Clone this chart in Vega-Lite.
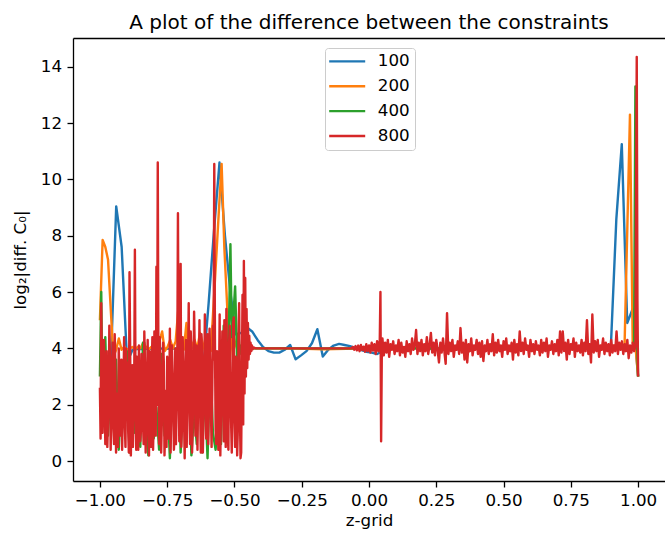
{
"$schema": "https://vega.github.io/schema/vega-lite/v6.json",
"width": 592, "height": 443,
"autosize": {"type": "none"},
"padding": {"left": 73, "top": 38, "right": 0, "bottom": 52},
"background": "white",
"title": {"text": "A plot of the difference between the constraints", "fontSize": 20, "fontWeight": "normal", "font": "DejaVu Sans", "color": "black", "anchor": "middle", "offset": 5, "frame": "group"},
"config": {
  "view": {"stroke": null},
  "font": "DejaVu Sans",
  "axis": {"grid": false, "domainColor": "black", "tickColor": "black", "labelColor": "black", "titleColor": "black", "labelFontSize": 16.7, "titleFontSize": 16.7, "titleFontWeight": "normal", "tickSize": 6, "domainWidth": 1.3, "tickWidth": 1.3, "labelFont": "DejaVu Sans", "titleFont": "DejaVu Sans", "labelFlush": false, "labelOverlap": false}
},
"datasets": {
"d100": [
{"z":-1,"v":3.3},{"z":-0.9798,"v":3.6},{"z":-0.9596,"v":3.4},{"z":-0.9394,"v":9.04},{"z":-0.9192,"v":7.6},{"z":-0.899,"v":3.5},{"z":-0.8788,"v":3.95},{"z":-0.8586,"v":3.98},{"z":-0.8384,"v":3.97},{"z":-0.8182,"v":3.99},{"z":-0.798,"v":3.98},{"z":-0.7778,"v":4.0},{"z":-0.7576,"v":3.98},{"z":-0.7374,"v":3.99},{"z":-0.7172,"v":4.0},{"z":-0.697,"v":3.98},{"z":-0.6768,"v":4.02},{"z":-0.6566,"v":4.05},{"z":-0.6364,"v":3.9},{"z":-0.6162,"v":3.25},{"z":-0.596,"v":5.6},{"z":-0.5758,"v":8.2},{"z":-0.5556,"v":10.6},{"z":-0.5354,"v":8.0},{"z":-0.5152,"v":6.0},{"z":-0.4949,"v":4.5},{"z":-0.4747,"v":4.55},{"z":-0.4545,"v":4.75},{"z":-0.4343,"v":4.6},{"z":-0.4141,"v":4.3},{"z":-0.3939,"v":4.05},{"z":-0.3737,"v":3.9},{"z":-0.3535,"v":3.85},{"z":-0.3333,"v":3.85},{"z":-0.3131,"v":3.95},{"z":-0.2929,"v":4.12},{"z":-0.2727,"v":3.61},{"z":-0.2525,"v":3.75},{"z":-0.2323,"v":3.9},{"z":-0.2121,"v":4.18},{"z":-0.1919,"v":4.68},{"z":-0.1717,"v":3.71},{"z":-0.1515,"v":3.95},{"z":-0.1313,"v":4.1},{"z":-0.1111,"v":4.16},{"z":-0.0909,"v":4.12},{"z":-0.0707,"v":4.08},{"z":-0.0505,"v":4.02},{"z":-0.0303,"v":3.95},{"z":-0.0101,"v":3.88},{"z":0.0101,"v":3.85},{"z":0.0303,"v":3.8},{"z":0.0505,"v":3.9},{"z":0.0707,"v":4.0},{"z":0.0909,"v":4.05},{"z":0.2929,"v":3.95},{"z":0.4949,"v":4.05},{"z":0.697,"v":3.98},{"z":0.8788,"v":4.0},{"z":0.899,"v":4.1},{"z":0.9192,"v":8.6},{"z":0.9394,"v":11.25},{"z":0.9596,"v":4.9},{"z":0.9798,"v":5.4},{"z":1,"v":3.0}
],
"d200": [
{"z":-1,"v":5.0},{"z":-0.9899,"v":7.85},{"z":-0.9799,"v":7.6},{"z":-0.9698,"v":7.15},{"z":-0.9598,"v":5.4},{"z":-0.9497,"v":3.7},{"z":-0.9397,"v":3.95},{"z":-0.9296,"v":4.35},{"z":-0.9196,"v":3.95},{"z":-0.9095,"v":4.05},{"z":-0.8995,"v":3.95},{"z":-0.8894,"v":4.0},{"z":-0.8794,"v":4.05},{"z":-0.8693,"v":3.95},{"z":-0.8593,"v":4.05},{"z":-0.8492,"v":4.0},{"z":-0.8392,"v":4.2},{"z":-0.8291,"v":4.05},{"z":-0.8191,"v":3.95},{"z":-0.809,"v":4.05},{"z":-0.799,"v":3.95},{"z":-0.7889,"v":4.1},{"z":-0.7789,"v":4.25},{"z":-0.7688,"v":4.6},{"z":-0.7588,"v":3.9},{"z":-0.7487,"v":4.05},{"z":-0.7387,"v":4.3},{"z":-0.7286,"v":4.0},{"z":-0.7186,"v":4.25},{"z":-0.7085,"v":5.4},{"z":-0.6985,"v":4.1},{"z":-0.6884,"v":3.95},{"z":-0.6784,"v":4.9},{"z":-0.6683,"v":3.4},{"z":-0.6583,"v":4.1},{"z":-0.6482,"v":4.3},{"z":-0.6382,"v":4.0},{"z":-0.6281,"v":4.55},{"z":-0.6181,"v":4.2},{"z":-0.608,"v":3.85},{"z":-0.598,"v":4.0},{"z":-0.5879,"v":3.9},{"z":-0.5779,"v":5.5},{"z":-0.5678,"v":7.2},{"z":-0.5578,"v":8.9},{"z":-0.5477,"v":10.55},{"z":-0.5377,"v":7.6},{"z":-0.5276,"v":5.6},{"z":-0.5176,"v":3.6},{"z":-0.5075,"v":4.6},{"z":-0.4975,"v":4.2},{"z":-0.4874,"v":3.9},{"z":-0.4774,"v":4.05},{"z":-0.4673,"v":4.0},{"z":-0.3,"v":4.0},{"z":-0.17,"v":3.97},{"z":0,"v":4.0},{"z":0.5,"v":4.0},{"z":0.9497,"v":4.1},{"z":0.9598,"v":8.2},{"z":0.9698,"v":12.3},{"z":0.9799,"v":4.2},{"z":0.9899,"v":4.1},{"z":1,"v":3.0}
],
"d400": [
{"z":-1,"v":3.0},{"z":-0.995,"v":6.0},{"z":-0.99,"v":1.5},{"z":-0.98,"v":4.4},{"z":-0.97,"v":0.9},{"z":-0.96,"v":2.8},{"z":-0.95,"v":1.3},{"z":-0.94,"v":3.6},{"z":-0.93,"v":0.4},{"z":-0.92,"v":2.6},{"z":-0.91,"v":1.6},{"z":-0.9,"v":3.9},{"z":-0.89,"v":0.3},{"z":-0.88,"v":2.4},{"z":-0.87,"v":1.0},{"z":-0.86,"v":3.2},{"z":-0.85,"v":0.5},{"z":-0.84,"v":4.2},{"z":-0.835,"v":4.2},{"z":-0.83,"v":1.7},{"z":-0.82,"v":0.2},{"z":-0.81,"v":3.3},{"z":-0.8,"v":0.8},{"z":-0.79,"v":1.9},{"z":-0.78,"v":0.4},{"z":-0.77,"v":3.8},{"z":-0.76,"v":0.9},{"z":-0.75,"v":2.5},{"z":-0.74,"v":0.1},{"z":-0.73,"v":3.1},{"z":-0.72,"v":1.2},{"z":-0.71,"v":4.0},{"z":-0.7,"v":0.3},{"z":-0.69,"v":2.2},{"z":-0.68,"v":0.7},{"z":-0.67,"v":3.5},{"z":-0.66,"v":0.2},{"z":-0.65,"v":1.8},{"z":-0.64,"v":0.6},{"z":-0.63,"v":4.3},{"z":-0.62,"v":0.3},{"z":-0.61,"v":2.6},{"z":-0.6,"v":0.1},{"z":-0.59,"v":3.6},{"z":-0.58,"v":1.0},{"z":-0.57,"v":0.4},{"z":-0.56,"v":1.8},{"z":-0.55,"v":0.6},{"z":-0.54,"v":4.8},{"z":-0.53,"v":2.8},{"z":-0.52,"v":5.0},{"z":-0.515,"v":7.7},{"z":-0.51,"v":4.4},{"z":-0.505,"v":5.0},{"z":-0.4975,"v":6.2},{"z":-0.49,"v":3.6},{"z":-0.485,"v":4.5},{"z":-0.48,"v":3.8},{"z":-0.475,"v":4.1},{"z":-0.47,"v":4.0},{"z":-0.3,"v":4.0},{"z":0,"v":4.0},{"z":0.5,"v":4.0},{"z":0.985,"v":4.0},{"z":0.99,"v":13.3},{"z":0.995,"v":4.6},{"z":1,"v":3.0}
],
"d800": [
{"z":-1,"v":2.6},{"z":-0.995,"v":5.6},{"z":-0.99,"v":1.0},{"z":-0.985,"v":4.3},{"z":-0.98,"v":0.6},{"z":-0.975,"v":3.9},{"z":-0.97,"v":1.5},{"z":-0.965,"v":4.8},{"z":-0.96,"v":0.4},{"z":-0.955,"v":3.1},{"z":-0.95,"v":1.2},{"z":-0.945,"v":4.5},{"z":-0.94,"v":0.3},{"z":-0.935,"v":2.4},{"z":-0.93,"v":4.0},{"z":-0.925,"v":0.9},{"z":-0.92,"v":3.6},{"z":-0.915,"v":1.8},{"z":-0.91,"v":4.4},{"z":-0.905,"v":0.5},{"z":-0.9,"v":2.9},{"z":-0.895,"v":1.1},{"z":-0.89,"v":6.7},{"z":-0.885,"v":0.2},{"z":-0.88,"v":3.4},{"z":-0.875,"v":1.6},{"z":-0.87,"v":7.5},{"z":-0.865,"v":0.4},{"z":-0.86,"v":2.2},{"z":-0.855,"v":4.1},{"z":-0.85,"v":0.7},{"z":-0.845,"v":3.8},{"z":-0.84,"v":1.4},{"z":-0.835,"v":4.6},{"z":-0.83,"v":0.3},{"z":-0.825,"v":2.7},{"z":-0.82,"v":1.0},{"z":-0.815,"v":3.9},{"z":-0.81,"v":0.5},{"z":-0.805,"v":4.4},{"z":-0.8,"v":1.7},{"z":-0.795,"v":3.0},{"z":-0.79,"v":6.9},{"z":-0.785,"v":10.6},{"z":-0.78,"v":0.6},{"z":-0.775,"v":3.3},{"z":-0.77,"v":1.3},{"z":-0.765,"v":4.2},{"z":-0.76,"v":0.2},{"z":-0.755,"v":2.5},{"z":-0.75,"v":3.7},{"z":-0.745,"v":0.8},{"z":-0.74,"v":4.7},{"z":-0.735,"v":1.5},{"z":-0.73,"v":3.2},{"z":-0.725,"v":0.4},{"z":-0.72,"v":4.0},{"z":-0.715,"v":1.9},{"z":-0.71,"v":8.8},{"z":-0.705,"v":0.7},{"z":-0.7,"v":7.0},{"z":-0.695,"v":1.2},{"z":-0.69,"v":3.5},{"z":-0.685,"v":0.1},{"z":-0.68,"v":4.3},{"z":-0.675,"v":2.0},{"z":-0.67,"v":5.6},{"z":-0.665,"v":0.6},{"z":-0.66,"v":3.8},{"z":-0.655,"v":1.4},{"z":-0.65,"v":5.3},{"z":-0.645,"v":0.9},{"z":-0.64,"v":4.1},{"z":-0.635,"v":2.3},{"z":-0.63,"v":5.0},{"z":-0.625,"v":0.3},{"z":-0.62,"v":3.6},{"z":-0.615,"v":1.6},{"z":-0.61,"v":5.2},{"z":-0.605,"v":0.8},{"z":-0.6,"v":4.5},{"z":-0.595,"v":2.1},{"z":-0.59,"v":3.4},{"z":-0.585,"v":0.5},{"z":-0.58,"v":4.8},{"z":-0.575,"v":10.55},{"z":-0.57,"v":1.1},{"z":-0.565,"v":3.9},{"z":-0.56,"v":0.4},{"z":-0.555,"v":5.2},{"z":-0.55,"v":1.8},{"z":-0.545,"v":4.6},{"z":-0.54,"v":0.7},{"z":-0.535,"v":3.3},{"z":-0.53,"v":5.4},{"z":-0.525,"v":1.0},{"z":-0.52,"v":4.2},{"z":-0.515,"v":2.6},{"z":-0.51,"v":0.3},{"z":-0.505,"v":4.9},{"z":-0.5,"v":1.5},{"z":-0.495,"v":3.7},{"z":-0.49,"v":0.2},{"z":-0.485,"v":4.4},{"z":-0.48,"v":2.0},{"z":-0.475,"v":0.3},
{"z":-0.9975,"v":0.8},{"z":-0.9925,"v":3.4},{"z":-0.9875,"v":2.2},{"z":-0.9825,"v":3.0},{"z":-0.9775,"v":2.5},{"z":-0.9725,"v":0.5},{"z":-0.9675,"v":2.0},{"z":-0.9625,"v":3.6},{"z":-0.9575,"v":1.9},{"z":-0.9525,"v":4.2},{"z":-0.9475,"v":0.6},{"z":-0.9425,"v":3.3},{"z":-0.9375,"v":1.7},{"z":-0.9325,"v":0.5},{"z":-0.9275,"v":3.1},{"z":-0.9225,"v":2.4},{"z":-0.9175,"v":0.4},{"z":-0.9125,"v":2.6},{"z":-0.9075,"v":1.3},{"z":-0.9025,"v":4.0},{"z":-0.8975,"v":3.5},{"z":-0.8925,"v":0.3},{"z":-0.8875,"v":3.9},{"z":-0.8825,"v":1.9},{"z":-0.8775,"v":0.5},{"z":-0.8725,"v":2.8},{"z":-0.8675,"v":2.3},{"z":-0.8625,"v":3.7},{"z":-0.8575,"v":0.4},{"z":-0.8525,"v":2.5},{"z":-0.8475,"v":1.1},{"z":-0.8425,"v":2.9},{"z":-0.8375,"v":0.6},{"z":-0.8325,"v":3.4},{"z":-0.8275,"v":1.5},{"z":-0.8225,"v":4.3},{"z":-0.8175,"v":0.2},{"z":-0.8125,"v":2.1},{"z":-0.8075,"v":3.2},{"z":-0.8025,"v":0.4},{"z":-0.7975,"v":4.6},{"z":-0.7925,"v":0.9},{"z":-0.7875,"v":2.0},{"z":-0.7825,"v":3.1},{"z":-0.7775,"v":4.4},{"z":-0.7725,"v":0.3},{"z":-0.7675,"v":2.6},{"z":-0.7625,"v":3.5},{"z":-0.7575,"v":1.1},{"z":-0.7525,"v":0.5},{"z":-0.7475,"v":2.7},{"z":-0.7425,"v":2.2},{"z":-0.7375,"v":0.3},{"z":-0.7325,"v":4.1},{"z":-0.7275,"v":2.3},{"z":-0.7225,"v":1.0},{"z":-0.7175,"v":0.6},{"z":-0.7125,"v":3.3},{"z":-0.7075,"v":2.9},{"z":-0.7025,"v":3.6},{"z":-0.6975,"v":0.5},{"z":-0.6925,"v":4.4},{"z":-0.6875,"v":1.6},{"z":-0.6825,"v":2.7},{"z":-0.6775,"v":0.5},{"z":-0.6725,"v":3.2},{"z":-0.6675,"v":2.4},{"z":-0.6625,"v":4.6},{"z":-0.6575,"v":0.3},{"z":-0.6525,"v":2.8},{"z":-0.6475,"v":3.9},{"z":-0.6425,"v":1.1},{"z":-0.6375,"v":0.4},{"z":-0.6325,"v":2.9},{"z":-0.6275,"v":1.8},{"z":-0.6225,"v":4.5},{"z":-0.6175,"v":0.3},{"z":-0.6125,"v":2.6},{"z":-0.6075,"v":3.0},{"z":-0.6025,"v":1.2},{"z":-0.5975,"v":0.6},{"z":-0.5925,"v":4.7},{"z":-0.5875,"v":1.9},{"z":-0.5825,"v":2.5},{"z":-0.5775,"v":3.6},{"z":-0.5725,"v":4.3},{"z":-0.5675,"v":0.6},{"z":-0.5625,"v":2.3},{"z":-0.5575,"v":2.8},{"z":-0.5525,"v":0.2},{"z":-0.5475,"v":3.0},{"z":-0.5425,"v":2.4},{"z":-0.5375,"v":5.0},{"z":-0.5325,"v":0.5},{"z":-0.5275,"v":2.9},{"z":-0.5225,"v":0.4},{"z":-0.5175,"v":4.8},{"z":-0.5125,"v":1.4},{"z":-0.5075,"v":2.2},{"z":-0.5025,"v":5.1},{"z":-0.4975,"v":0.5},{"z":-0.4925,"v":3.0},{"z":-0.4875,"v":1.1},{"z":-0.4825,"v":5.6},{"z":-0.4775,"v":0.1},
{"z":-0.47,"v":5.9},{"z":-0.4675,"v":1.3},{"z":-0.465,"v":7.1},{"z":-0.4625,"v":2.4},{"z":-0.46,"v":6.5},{"z":-0.4575,"v":3.0},{"z":-0.455,"v":5.4},{"z":-0.4525,"v":3.3},{"z":-0.45,"v":4.9},{"z":-0.4475,"v":3.6},{"z":-0.445,"v":4.45},{"z":-0.4425,"v":3.8},{"z":-0.44,"v":4.2},{"z":-0.4375,"v":3.9},{"z":-0.435,"v":4.1},{"z":-0.4325,"v":3.97},{"z":-0.43,"v":4.03},{"z":-0.42,"v":4.0},{"z":-0.3,"v":4.0},{"z":-0.2,"v":4.0},{"z":-0.1,"v":4.0},{"z":-0.065,"v":4.0},
{"z":-0.06,"v":4.05},{"z":-0.055,"v":3.95},{"z":-0.05,"v":4.08},{"z":-0.045,"v":3.93},{"z":-0.04,"v":4.1},{"z":-0.035,"v":3.9},{"z":-0.03,"v":4.12},{"z":-0.025,"v":3.94},{"z":-0.02,"v":4.06},{"z":-0.015,"v":3.88},{"z":-0.01,"v":4.15},{"z":-0.005,"v":3.9},{"z":0,"v":4.1},{"z":0.005,"v":3.85},{"z":0.01,"v":4.2},{"z":0.015,"v":3.92},{"z":0.02,"v":4.15},{"z":0.025,"v":3.8},{"z":0.03,"v":4.25},{"z":0.035,"v":3.9},{"z":0.04,"v":4.3},{"z":0.0425,"v":6.0},{"z":0.045,"v":0.7},{"z":0.0475,"v":3.7},{"z":0.05,"v":4.35},
{"z":0.055,"v":3.75},{"z":0.06,"v":4.2},{"z":0.065,"v":3.85},{"z":0.07,"v":4.3},{"z":0.075,"v":3.7},{"z":0.08,"v":4.15},{"z":0.085,"v":3.95},{"z":0.09,"v":4.25},{"z":0.095,"v":3.8},{"z":0.1,"v":4.1},{"z":0.105,"v":3.9},{"z":0.11,"v":4.3},{"z":0.115,"v":3.75},{"z":0.12,"v":4.2},{"z":0.125,"v":3.85},{"z":0.13,"v":4.05},{"z":0.135,"v":3.7},{"z":0.14,"v":4.25},{"z":0.145,"v":3.9},{"z":0.15,"v":4.15},{"z":0.155,"v":3.8},{"z":0.16,"v":4.35},{"z":0.165,"v":3.95},{"z":0.17,"v":4.1},{"z":0.175,"v":4.65},{"z":0.18,"v":3.8},{"z":0.185,"v":4.2},{"z":0.19,"v":3.9},{"z":0.195,"v":4.3},{"z":0.2,"v":3.75},{"z":0.205,"v":4.15},{"z":0.21,"v":3.9},{"z":0.215,"v":4.4},{"z":0.22,"v":3.8},{"z":0.225,"v":4.1},{"z":0.23,"v":4.55},{"z":0.235,"v":3.85},{"z":0.24,"v":4.2},{"z":0.245,"v":3.75},{"z":0.25,"v":4.3},{"z":0.255,"v":3.95},{"z":0.26,"v":3.5},{"z":0.265,"v":4.2},{"z":0.27,"v":3.85},{"z":0.275,"v":4.35},{"z":0.28,"v":3.9},{"z":0.285,"v":3.45},{"z":0.29,"v":5.25},{"z":0.295,"v":3.8},{"z":0.3,"v":4.2},{"z":0.305,"v":3.9},{"z":0.31,"v":4.3},{"z":0.315,"v":3.7},{"z":0.32,"v":4.1},{"z":0.325,"v":3.95},{"z":0.33,"v":4.25},{"z":0.335,"v":3.8},{"z":0.34,"v":4.72},{"z":0.345,"v":3.85},{"z":0.35,"v":4.2},{"z":0.355,"v":3.6},{"z":0.36,"v":4.3},{"z":0.365,"v":3.5},{"z":0.37,"v":4.15},{"z":0.375,"v":3.9},{"z":0.38,"v":4.35},{"z":0.385,"v":3.75},{"z":0.39,"v":4.1},{"z":0.395,"v":3.95},{"z":0.4,"v":4.3},{"z":0.405,"v":3.8},{"z":0.41,"v":4.2},{"z":0.415,"v":3.7},{"z":0.42,"v":4.25},{"z":0.425,"v":3.55},{"z":0.43,"v":4.1},{"z":0.435,"v":3.9},{"z":0.44,"v":4.3},{"z":0.445,"v":3.8},{"z":0.45,"v":4.15},{"z":0.455,"v":3.9},{"z":0.46,"v":4.5},{"z":0.465,"v":3.75},{"z":0.47,"v":4.2},{"z":0.475,"v":3.85},{"z":0.48,"v":4.3},{"z":0.485,"v":3.9},{"z":0.49,"v":4.1},{"z":0.495,"v":3.7},{"z":0.5,"v":4.25},{"z":0.505,"v":3.95},{"z":0.51,"v":4.35},{"z":0.515,"v":3.8},{"z":0.52,"v":4.1},{"z":0.525,"v":3.9},{"z":0.53,"v":4.2},{"z":0.535,"v":3.6},{"z":0.54,"v":4.3},{"z":0.545,"v":3.85},{"z":0.55,"v":4.15},{"z":0.555,"v":3.75},{"z":0.56,"v":4.6},{"z":0.565,"v":3.9},{"z":0.57,"v":4.2},{"z":0.575,"v":3.8},{"z":0.58,"v":4.35},{"z":0.585,"v":3.95},{"z":0.59,"v":4.1},{"z":0.595,"v":3.7},{"z":0.6,"v":4.3},{"z":0.605,"v":3.9},{"z":0.61,"v":4.15},{"z":0.615,"v":3.8},{"z":0.62,"v":4.25},{"z":0.625,"v":3.95},{"z":0.63,"v":4.1},{"z":0.635,"v":3.75},{"z":0.64,"v":4.3},{"z":0.645,"v":3.85},{"z":0.65,"v":4.2},{"z":0.655,"v":3.9},{"z":0.66,"v":4.35},{"z":0.665,"v":3.7},{"z":0.67,"v":4.1},{"z":0.675,"v":3.95},{"z":0.68,"v":4.25},{"z":0.685,"v":3.8},{"z":0.69,"v":4.15},{"z":0.695,"v":3.9},{"z":0.7,"v":4.3},{"z":0.705,"v":3.75},{"z":0.71,"v":4.6},{"z":0.715,"v":3.85},{"z":0.72,"v":4.6},{"z":0.725,"v":3.9},{"z":0.73,"v":4.2},{"z":0.735,"v":3.6},{"z":0.74,"v":4.3},{"z":0.745,"v":3.8},{"z":0.75,"v":4.15},{"z":0.755,"v":3.95},{"z":0.76,"v":4.35},{"z":0.765,"v":3.7},{"z":0.77,"v":4.2},{"z":0.775,"v":3.9},{"z":0.78,"v":4.1},{"z":0.785,"v":3.85},{"z":0.79,"v":4.3},{"z":0.795,"v":3.75},{"z":0.8,"v":4.2},{"z":0.805,"v":3.9},{"z":0.81,"v":5.0},{"z":0.815,"v":3.8},{"z":0.82,"v":4.15},{"z":0.825,"v":3.5},{"z":0.83,"v":5.2},{"z":0.835,"v":3.85},{"z":0.84,"v":4.25},{"z":0.845,"v":3.9},{"z":0.85,"v":4.3},{"z":0.855,"v":3.7},{"z":0.86,"v":4.1},{"z":0.865,"v":3.95},{"z":0.87,"v":4.35},{"z":0.875,"v":3.8},{"z":0.88,"v":4.2},{"z":0.885,"v":3.9},{"z":0.89,"v":4.15},{"z":0.895,"v":3.75},{"z":0.9,"v":4.3},{"z":0.905,"v":3.85},{"z":0.91,"v":4.1},{"z":0.915,"v":3.9},{"z":0.92,"v":4.6},{"z":0.925,"v":3.8},{"z":0.93,"v":4.2},{"z":0.935,"v":3.95},{"z":0.94,"v":4.25},{"z":0.945,"v":3.8},{"z":0.95,"v":4.15},{"z":0.955,"v":3.9},{"z":0.96,"v":4.3},{"z":0.965,"v":3.65},{"z":0.97,"v":4.1},{"z":0.975,"v":3.85},{"z":0.98,"v":4.2},{"z":0.985,"v":3.9},{"z":0.99,"v":4.05},{"z":0.995,"v":14.35},{"z":0.9975,"v":5.7},{"z":1,"v":3.0}
]
},
"layer": [
{"data": {"name": "d100"},
 "mark": {"type": "line", "strokeWidth": 2.4, "strokeJoin": "round", "strokeCap": "butt"},
 "encoding": {
  "x": {"field": "z", "type": "quantitative", "scale": {"domain": [-1.1, 1.1], "nice": false, "zero": false}, "axis": {"values": [-1,-0.75,-0.5,-0.25,0,0.25,0.5,0.75,1], "format": ".2f", "title": "z-grid", "labelPadding": 5, "titlePadding": 4}},
  "y": {"field": "v", "type": "quantitative", "scale": {"domain": [-0.71, 15.02], "nice": false, "zero": false}, "axis": {"values": [0,2,4,6,8,10,12,14], "format": "d", "title": "log₂|diff. C₀|", "labelPadding": 5.5, "titlePadding": 11}},
  "color": {"datum": "100", "type": "nominal", "scale": {"domain": ["100","200","400","800"], "range": ["#1f77b4","#ff7f0e","#2ca02c","#d62728"]}, "legend": {"orient": "none", "legendX": 252, "legendY": 10, "title": null, "symbolType": "M-3,0H3", "symbolSize": 144, "symbolStrokeWidth": 2.4, "symbolOffset": 8.85, "labelOffset": 22.3, "labelFontSize": 16.7, "labelFont": "DejaVu Sans", "labelColor": "black", "rowPadding": 6.9, "padding": 5, "strokeColor": "#cccccc", "fillColor": "rgba(255,255,255,0.8)", "cornerRadius": 3}}
 }},
{"data": {"name": "d200"},
 "mark": {"type": "line", "strokeWidth": 2.4, "strokeJoin": "round", "strokeCap": "butt"},
 "encoding": {
  "x": {"field": "z", "type": "quantitative", "scale": {"domain": [-1.1, 1.1], "nice": false, "zero": false}, "axis": {"orient": "top", "labels": false, "ticks": false, "title": null, "domain": true}},
  "y": {"field": "v", "type": "quantitative", "scale": {"domain": [-0.71, 15.02], "nice": false, "zero": false}, "axis": {"values": [0,2,4,6,8,10,12,14], "format": "d", "title": "log₂|diff. C₀|", "labelPadding": 5.5, "titlePadding": 11}},
  "color": {"datum": "200", "type": "nominal", "scale": {"domain": ["100","200","400","800"], "range": ["#1f77b4","#ff7f0e","#2ca02c","#d62728"]}, "legend": {"orient": "none", "legendX": 252, "legendY": 10, "title": null, "symbolType": "M-3,0H3", "symbolSize": 144, "symbolStrokeWidth": 2.4, "symbolOffset": 8.85, "labelOffset": 22.3, "labelFontSize": 16.7, "labelFont": "DejaVu Sans", "labelColor": "black", "rowPadding": 6.9, "padding": 5, "strokeColor": "#cccccc", "fillColor": "rgba(255,255,255,0.8)", "cornerRadius": 3}}
 }},
{"data": {"name": "d400"},
 "mark": {"type": "line", "strokeWidth": 2.4, "strokeJoin": "round", "strokeCap": "butt"},
 "encoding": {
  "x": {"field": "z", "type": "quantitative", "scale": {"domain": [-1.1, 1.1], "nice": false, "zero": false}, "axis": null},
  "y": {"field": "v", "type": "quantitative", "scale": {"domain": [-0.71, 15.02], "nice": false, "zero": false}, "axis": {"values": [0,2,4,6,8,10,12,14], "format": "d", "title": "log₂|diff. C₀|", "labelPadding": 5.5, "titlePadding": 11}},
  "color": {"datum": "400", "type": "nominal", "scale": {"domain": ["100","200","400","800"], "range": ["#1f77b4","#ff7f0e","#2ca02c","#d62728"]}, "legend": {"orient": "none", "legendX": 252, "legendY": 10, "title": null, "symbolType": "M-3,0H3", "symbolSize": 144, "symbolStrokeWidth": 2.4, "symbolOffset": 8.85, "labelOffset": 22.3, "labelFontSize": 16.7, "labelFont": "DejaVu Sans", "labelColor": "black", "rowPadding": 6.9, "padding": 5, "strokeColor": "#cccccc", "fillColor": "rgba(255,255,255,0.8)", "cornerRadius": 3}}
 }},
{"data": {"name": "d800"},
 "mark": {"type": "line", "strokeWidth": 2.4, "strokeJoin": "round", "strokeCap": "butt"},
 "encoding": {
  "x": {"field": "z", "type": "quantitative", "scale": {"domain": [-1.1, 1.1], "nice": false, "zero": false}, "axis": null},
  "y": {"field": "v", "type": "quantitative", "scale": {"domain": [-0.71, 15.02], "nice": false, "zero": false}, "axis": {"values": [0,2,4,6,8,10,12,14], "format": "d", "title": "log₂|diff. C₀|", "labelPadding": 5.5, "titlePadding": 11}},
  "color": {"datum": "800", "type": "nominal", "scale": {"domain": ["100","200","400","800"], "range": ["#1f77b4","#ff7f0e","#2ca02c","#d62728"]}, "legend": {"orient": "none", "legendX": 252, "legendY": 10, "title": null, "symbolType": "M-3,0H3", "symbolSize": 144, "symbolStrokeWidth": 2.4, "symbolOffset": 8.85, "labelOffset": 22.3, "labelFontSize": 16.7, "labelFont": "DejaVu Sans", "labelColor": "black", "rowPadding": 6.9, "padding": 5, "strokeColor": "#cccccc", "fillColor": "rgba(255,255,255,0.8)", "cornerRadius": 3}}
 }}
],
"resolve": {"axis": {"x": "independent"}}
}
